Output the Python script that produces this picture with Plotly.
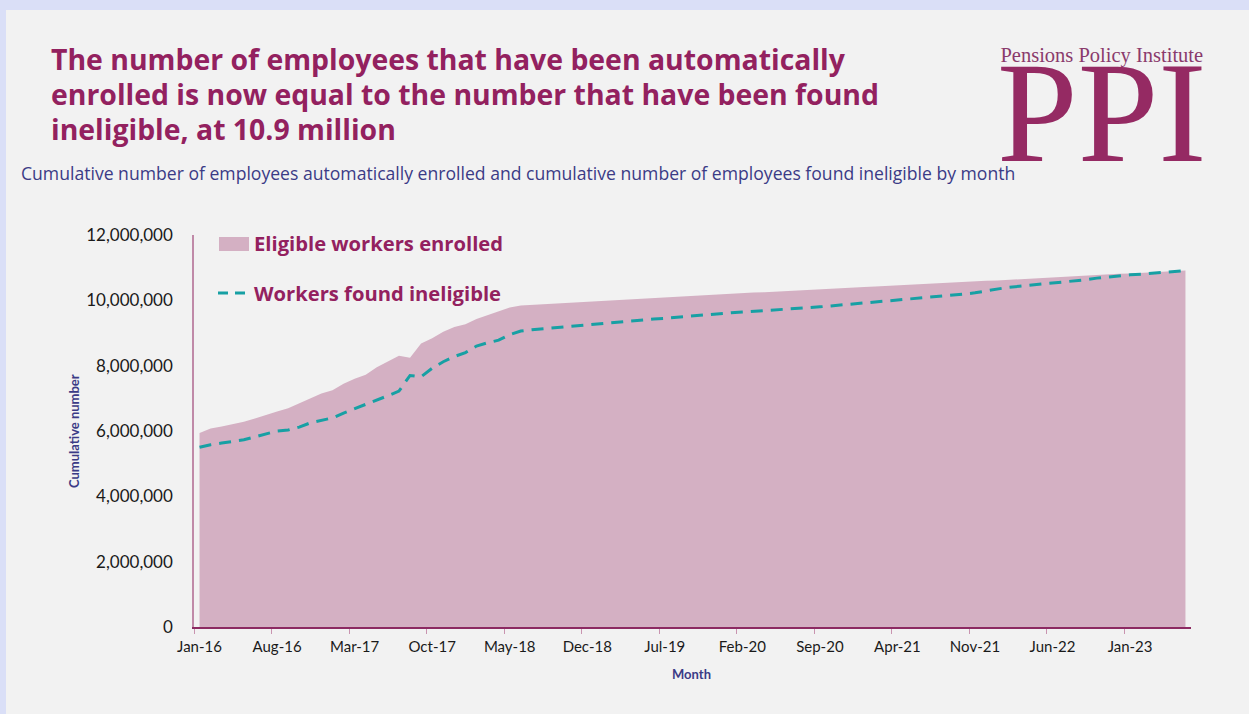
import pandas as pd
import plotly.graph_objects as go

# Monthly categories, Jan-16 to Jun-23
months = pd.date_range("2016-01-01", "2023-06-01", freq="MS").strftime("%b-%y").tolist()

# Cumulative eligible workers automatically enrolled (millions)
enrolled_m = [
    5.94, 6.08, 6.14, 6.20, 6.28, 6.38, 6.50, 6.60, 6.70, 6.85,
    7.02, 7.15, 7.25, 7.45, 7.60, 7.72, 7.95, 8.12, 8.30, 8.24,
    8.68, 8.84, 9.04, 9.18, 9.27, 9.43, 9.54, 9.65, 9.78, 9.84,
    9.86, 9.88, 9.90, 9.92, 9.94, 9.96, 9.98, 10.00, 10.02, 10.04,
    10.06, 10.07, 10.09, 10.11, 10.13, 10.15, 10.17, 10.18, 10.20, 10.22,
    10.24, 10.25, 10.27, 10.29, 10.31, 10.32, 10.34, 10.36, 10.37, 10.39,
    10.41, 10.42, 10.44, 10.46, 10.48, 10.49, 10.51, 10.53, 10.55, 10.56,
    10.58, 10.60, 10.61, 10.63, 10.65, 10.67, 10.68, 10.70, 10.72, 10.74,
    10.75, 10.77, 10.79, 10.81, 10.82, 10.84, 10.86, 10.88, 10.89, 10.91,
]

# Cumulative workers found ineligible (millions)
ineligible_m = [
    5.50, 5.58, 5.63, 5.68, 5.73, 5.82, 5.92, 6.00, 6.03, 6.12,
    6.25, 6.33, 6.40, 6.55, 6.68, 6.80, 6.93, 7.08, 7.22, 7.70,
    7.66, 7.92, 8.12, 8.28, 8.40, 8.60, 8.70, 8.78, 8.95, 9.06,
    9.10, 9.13, 9.17, 9.20, 9.23, 9.26, 9.29, 9.32, 9.36, 9.38,
    9.40, 9.43, 9.45, 9.48, 9.51, 9.55, 9.58, 9.60, 9.62, 9.64,
    9.66, 9.68, 9.70, 9.73, 9.75, 9.78, 9.80, 9.83, 9.86, 9.88,
    9.91, 9.94, 9.97, 10.00, 10.02, 10.05, 10.08, 10.12, 10.15, 10.19,
    10.23, 10.29, 10.35, 10.40, 10.43, 10.46, 10.49, 10.52, 10.55, 10.59,
    10.63, 10.68, 10.72, 10.75, 10.78, 10.80, 10.83, 10.86, 10.88, 10.91,
]

enrolled = [v * 1e6 for v in enrolled_m]
ineligible = [v * 1e6 for v in ineligible_m]

y_ticks = [0, 2e6, 4e6, 6e6, 8e6, 10e6, 12e6]

# Colours
PURPLE = "#93215f"
AREA = "#d4b0c3"
TEAL = "#17a0a4"
NAVY = "#3b3b86"
PANEL = "#f2f2f2"
FRAME = "#dadff7"

W, H = 1249, 714
L, R, T, B = 194, 1191, 235, 627


def px(x):
    return (x - L) / (R - L)


def py(y):
    return (B - y) / (B - T)


fig = go.Figure()
fig.add_trace(go.Scatter(
    x=months, y=enrolled, mode="lines", fill="tozeroy",
    fillcolor=AREA, line=dict(width=0, color=AREA),
    name="Eligible workers enrolled", showlegend=False,
))
fig.add_trace(go.Scatter(
    x=months, y=ineligible, mode="lines",
    line=dict(color=TEAL, width=3, dash="12px,8px"),
    name="Workers found ineligible", showlegend=False,
))

TXT = "Lato"
HEAD = "Open Sans"
shapes = [
    # outer frame strips
    dict(type="rect", xref="paper", yref="paper", x0=px(0), x1=px(W), y0=py(0), y1=py(10),
         fillcolor=FRAME, line_width=0, layer="below"),
    dict(type="rect", xref="paper", yref="paper", x0=px(0), x1=px(6), y0=py(0), y1=py(H),
         fillcolor=FRAME, line_width=0, layer="below"),
    # legend keys
    dict(type="rect", xref="paper", yref="paper", x0=px(219), x1=px(249), y0=py(251), y1=py(237),
         fillcolor=AREA, line_width=0),
    dict(type="line", xref="paper", yref="paper", x0=px(218), x1=px(249), y0=py(293), y1=py(293),
         line=dict(color=TEAL, width=3, dash="10px,7px")),
]

annotations = []
title_lines = [
    "The number of employees that have been automatically",
    "enrolled is now equal to the number that have been found",
    "ineligible, at 10.9 million",
]
for i, line in enumerate(title_lines):
    annotations.append(dict(
        text=f"<b>{line}</b>", xref="paper", yref="paper", x=px(49), y=py(59 + 35 * i),
        xanchor="left", yanchor="middle", showarrow=False,
        font=dict(family=HEAD, size=28.4, color=PURPLE),
    ))
annotations.append(dict(
    text="Cumulative number of employees automatically enrolled and cumulative number of employees found ineligible by month",
    xref="paper", yref="paper", x=px(19), y=py(173), xanchor="left", yanchor="middle",
    showarrow=False, font=dict(family=HEAD, size=17.6, color=NAVY),
))
# logo: institute name above the large initials, one text block
annotations.append(dict(
    text=(
        '<span style="font-size:20.5px;fill:#8a3a6c">Pensions Policy Institute</span>'
        '<br><span style="font-size:145px">PPI</span>'
    ),
    xref="paper", yref="paper", x=px(1102), y=py(112),
    xanchor="center", yanchor="middle", showarrow=False,
    font=dict(family="Liberation Serif", size=76, color="#952a63"),
))
# legend labels
annotations.append(dict(
    text="<b>Eligible workers enrolled</b>", xref="paper", yref="paper", x=px(252), y=py(243),
    xanchor="left", yanchor="middle", showarrow=False, font=dict(family=HEAD, size=20.2, color=PURPLE),
))
annotations.append(dict(
    text="<b>Workers found ineligible</b>", xref="paper", yref="paper", x=px(252), y=py(293),
    xanchor="left", yanchor="middle", showarrow=False, font=dict(family=HEAD, size=20.2, color=PURPLE),
))
# axis titles
annotations.append(dict(
    text="<b>Cumulative number</b>", xref="paper", yref="paper", x=px(74), y=py(431),
    xanchor="center", yanchor="middle", textangle=-90, showarrow=False,
    font=dict(family=TXT, size=13, color=NAVY),
))
annotations.append(dict(
    text="<b>Month</b>", xref="paper", yref="paper", x=px(691), y=py(674),
    xanchor="center", yanchor="middle", showarrow=False,
    font=dict(family=TXT, size=13, color=NAVY),
))

fig.update_layout(
    width=W, height=H,
    margin=dict(l=L, r=W - R, t=T, b=H - B, pad=0),
    paper_bgcolor=PANEL, plot_bgcolor="rgba(0,0,0,0)",
    shapes=shapes, annotations=annotations,
    font=dict(family=TXT, color="#1a1a1a"),
    xaxis=dict(
        type="category", tickmode="linear", tick0=0, dtick=7, tickson="boundaries",
        range=[-0.5, len(months) - 0.5], showgrid=False, zeroline=False,
        showline=True, linecolor="#8c2a62", linewidth=1.5,
        ticks="outside", ticklen=5, tickcolor="#c994b0", tickwidth=1, tickangle=0,
        ticklabelstandoff=5, tickfont=dict(family=TXT, size=15, color="#1a1a1a"),
    ),
    yaxis=dict(
        range=[0, 12e6], tickvals=y_ticks, tickformat=",d", showgrid=False, zeroline=False,
        showline=True, linecolor="#c08aa8", linewidth=1.5, ticks="",
        ticklabelstandoff=16, tickfont=dict(family=TXT, size=17, color="#1a1a1a"),
    ),
)

fig.write_html("out.html")
